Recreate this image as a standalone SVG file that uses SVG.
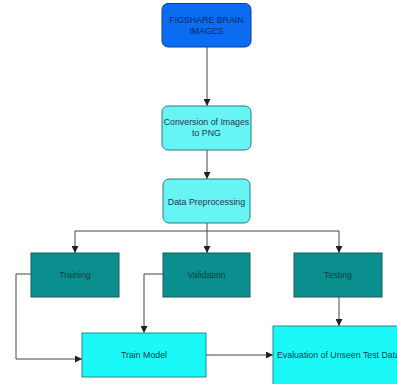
<svg xmlns="http://www.w3.org/2000/svg" width="397" height="384" viewBox="0 0 397 384">
<style>
text{font-family:"Liberation Sans",Arial,sans-serif;font-size:8.8px;text-anchor:middle;fill:#1f3a4a}
.blue{fill:#0a6cf0;stroke:#0a3f9a;stroke-width:1}
.light{fill:#66f4f4;stroke:#2a7a80;stroke-width:1}
.teal{fill:#0a8e8e;stroke:#1a5a5a;stroke-width:1}
.cyan{fill:#1af8f8;stroke:#2a8a8a;stroke-width:1}
.c{fill:none;stroke:#444;stroke-width:1}
</style>
<defs>
<marker id="ah" viewBox="0 0 10 10" refX="10" refY="5" markerWidth="7" markerHeight="7" orient="auto" markerUnits="userSpaceOnUse">
<path d="M0,0 L10,5 L0,10 z" fill="#222"/>
</marker>
</defs>
<rect width="397" height="384" fill="#ffffff"/>
<g id="connectors">
<path class="c" d="M207,47 V106" marker-end="url(#ah)"/>
<path class="c" d="M207,150 V179" marker-end="url(#ah)"/>
<path class="c" d="M207,223 V253" marker-end="url(#ah)"/>
<path class="c" d="M75,231 H339"/>
<path class="c" d="M75,231 V253" marker-end="url(#ah)"/>
<path class="c" d="M339,231 V253" marker-end="url(#ah)"/>
<path class="c" d="M31,274 H16 V359 H82" marker-end="url(#ah)"/>
<path class="c" d="M163,274 H144 V333" marker-end="url(#ah)"/>
<path class="c" d="M339,297 V326" marker-end="url(#ah)"/>
<path class="c" d="M206,355 H273" marker-end="url(#ah)"/>
</g>
<g id="figshare">
<rect class="blue" x="162" y="3.5" width="89" height="43.5" rx="6"/>
<text x="206.5" y="23" style="fill:#0a2a66">FIGSHARE  BRAIN</text>
<text x="206.5" y="34" style="fill:#0a2a66">IMAGES</text>
</g>
<g id="conversion">
<rect class="light" x="162" y="106" width="89" height="44" rx="6"/>
<text x="206.5" y="125">Conversion of Images</text>
<text x="206.5" y="136">to PNG</text>
</g>
<g id="preprocessing">
<rect class="light" x="163" y="179" width="87" height="44" rx="6"/>
<text x="206.5" y="204.5">Data Preprocessing</text>
</g>
<g id="training">
<rect class="teal" x="31" y="253" width="88" height="44"/>
<text x="75" y="278">Training</text>
</g>
<g id="validation">
<rect class="teal" x="163" y="253" width="87" height="44"/>
<text x="206.5" y="278">Validation</text>
</g>
<g id="testing">
<rect class="teal" x="294" y="253" width="88" height="44"/>
<text x="338" y="278">Testing</text>
</g>
<g id="train-model">
<rect class="cyan" x="82" y="333" width="124" height="44"/>
<text x="144" y="358">Train Model</text>
</g>
<g id="evaluation">
<rect class="cyan" x="273" y="326" width="130" height="64"/>
<text x="277" y="358" style="text-anchor:start">Evaluation of Unseen Test Data</text>
</g>
</svg>
